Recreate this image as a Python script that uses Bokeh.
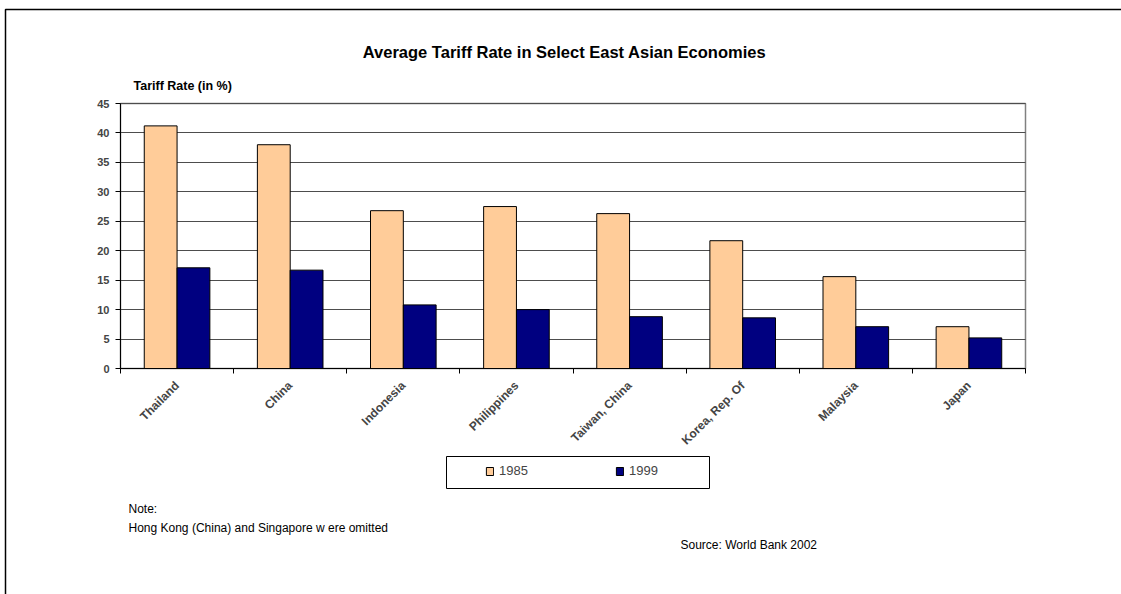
import numpy as np
from bokeh.plotting import figure
from bokeh.models import (Range1d, FixedTicker, LinearAxis, Legend, LegendItem,
                          Label, Grid, BoxAnnotation, ColumnDataSource)
from bokeh.embed import file_html
from bokeh.resources import INLINE

# ---- data ----
countries = ["Thailand", "China", "Indonesia", "Philippines",
             "Taiwan, China", "Korea, Rep. Of", "Malaysia", "Japan"]
rate_1985 = [41.2, 38.0, 26.8, 27.5, 26.3, 21.7, 15.6, 7.1]
rate_1999 = [17.1, 16.7, 10.8, 10.0, 8.8, 8.6, 7.1, 5.2]
series_names = ["1985", "1999"]
y_ticks = [0, 5, 10, 15, 20, 25, 30, 35, 40, 45]

title_text = "Average Tariff Rate in Select East Asian Economies"
y_title = "Tariff Rate  (in %)"
note_lines = ["Note:", "Hong Kong (China) and Singapore w ere omitted"]
source_text = "Source: World Bank 2002"

# ---- layout (pixels) ----
W, H = 1121, 594
FL, FR, FT, FB = 120, 1025, 103, 368
NCAT = len(countries)
YMAX = y_ticks[-1]

def px2x(px):
    return (px - FL) / (FR - FL) * NCAT

def py2y(py):
    return (FB - py) / (FB - FT) * YMAX

FONT = "Liberation Sans"

# the frame covers the whole canvas; the plot area is the data box 0..NCAT x 0..YMAX
p = figure(width=W, height=H,
           x_range=Range1d(px2x(0), px2x(W)), y_range=Range1d(py2y(H), py2y(0)),
           output_backend="svg", toolbar_location=None,
           x_axis_type=None, y_axis_type=None,
           min_border=0, min_border_left=0, min_border_right=0,
           min_border_top=0, min_border_bottom=0)
p.background_fill_color = "white"
p.border_fill_color = "white"
p.outline_line_color = None

centers = np.arange(NCAT) + 0.5
bw = 0.29
src = ColumnDataSource(dict(x1=centers - bw / 2, x2=centers + bw / 2,
                            r85=rate_1985, r99=rate_1999))

# plot-area border (grey, top/right visible)
p.add_layout(BoxAnnotation(left=0, right=NCAT, bottom=0, top=YMAX, level="underlay",
                           fill_color=None, fill_alpha=0, line_color="#808080",
                           line_alpha=1, line_width=1.5))

# y axis
yax = LinearAxis(ticker=FixedTicker(ticks=y_ticks), fixed_location=0, bounds=(0, YMAX))
yax.axis_line_color = "black"
yax.major_tick_out = 5
yax.major_tick_in = 0
yax.minor_tick_line_color = None
yax.major_label_text_font = FONT
yax.major_label_text_font_style = "bold"
yax.major_label_text_font_size = "11px"
yax.major_label_standoff = 6
p.add_layout(yax, "left")

# x axis (labels at centres, ticks at boundaries)
xax = LinearAxis(ticker=FixedTicker(ticks=list(centers), minor_ticks=list(range(NCAT + 1))),
                 fixed_location=0, bounds=(0, NCAT))
xax.major_label_overrides = {float(c): n for c, n in zip(centers, countries)}
xax.major_tick_line_color = None
xax.minor_tick_line_color = "black"
xax.minor_tick_out = 5
xax.minor_tick_in = 0
xax.axis_line_color = "black"
xax.major_label_orientation = np.pi / 4
xax.major_label_text_font = FONT
xax.major_label_text_font_style = "bold"
xax.major_label_text_font_size = "12px"
xax.major_label_standoff = 9
p.add_layout(xax, "below")

grid = Grid(dimension=1, ticker=yax.ticker, grid_line_color="#4d4d4d", grid_line_width=1,
            bounds=(0, YMAX), cross_bounds=(0, NCAT))
p.add_layout(grid)

r1 = p.vbar(x="x1", top="r85", width=bw, source=src, fill_color="#FFCC99",
            line_color="black", line_width=1)
r2 = p.vbar(x="x2", top="r99", width=bw, source=src, fill_color="#000080",
            line_color="black", line_width=1)

# legend box
p.add_layout(BoxAnnotation(left=px2x(446), right=px2x(709), top=py2y(456), bottom=py2y(488),
                           fill_color="white", fill_alpha=1, line_color="black",
                           line_alpha=1, line_width=1))
# outer border (left and top)
p.add_layout(BoxAnnotation(left=px2x(5), right=px2x(1300), top=py2y(9), bottom=py2y(800),
                           fill_color=None, fill_alpha=0, line_color="black",
                           line_alpha=1, line_width=1.5))

legend = Legend(items=[LegendItem(label=series_names[0], renderers=[r1]),
                       LegendItem(label=series_names[1], renderers=[r2])],
                orientation="horizontal", location=(490 - 11 + 6, H - 491 + 13))
legend.padding = 11
legend.margin = 0
legend.spacing = 86
legend.glyph_width = 9
legend.glyph_height = 10
legend.label_standoff = 5
legend.label_width = 30
legend.label_text_font = FONT
legend.label_text_font_size = "13px"
legend.border_line_color = None
legend.background_fill_color = None
p.add_layout(legend, "center")

def add_text(txt, px, py, size, style="normal", align="left"):
    p.add_layout(Label(x=px2x(px), y=py2y(py), text=txt, text_font=FONT,
                       text_font_size=size, text_font_style=style,
                       text_align=align, text_baseline="middle", text_color="black"))

add_text(title_text, 564, 51, "16.5px", "bold", "center")
add_text(y_title, 133, 85, "12.5px", "bold")
add_text(note_lines[0], 128, 508, "12px")
add_text(note_lines[1], 128, 527, "12px")
add_text(source_text, 680, 544, "12px")

open("out.html", "w").write(file_html(p, INLINE))
